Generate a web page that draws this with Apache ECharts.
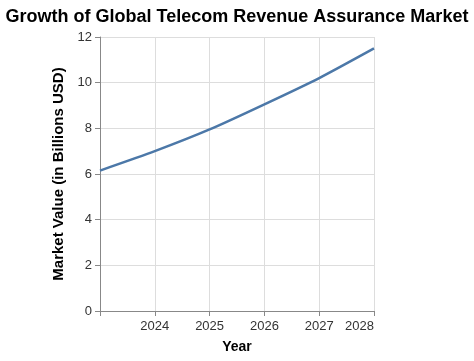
<!DOCTYPE html>
<html>
<head>
<meta charset="utf-8">
<script src="https://cdn.jsdelivr.net/npm/echarts@6/dist/echarts.min.js"></script>
<style>html,body{margin:0;padding:0;background:#fff}#c{width:474px;height:361px}</style>
</head>
<body>
<div id="c"></div>
<script>
const years = [2023, 2024, 2025, 2026, 2027, 2028];
const marketValues = [6.15, 7.0, 7.95, 9.05, 10.2, 11.5];
const yTicks = [0, 2, 4, 6, 8, 10, 12];
const titleText = 'Growth of Global Telecom Revenue Assurance Market';
const xTitle = 'Year';
const yTitle = 'Market Value (in Billions USD)';

const chart = echarts.init(document.getElementById('c'), null, {renderer: 'canvas'});
const font = 'Liberation Sans, Arial, sans-serif';
chart.setOption({
  animation: false,
  title: {
    text: titleText, left: 'center', top: 3,
    textStyle: {fontFamily: font, fontSize: 18, fontWeight: 'bold', color: '#000'}
  },
  grid: {left: 100, right: 100, top: 37, bottom: 50, containLabel: false},
  xAxis: {
    type: 'value', min: years[0], max: years[years.length - 1], interval: 1,
    name: xTitle, nameLocation: 'middle', nameGap: 29,
    nameTextStyle: {fontFamily: font, fontSize: 14, fontWeight: 'bold', color: '#000'},
    axisLine: {show: true, lineStyle: {color: '#888', width: 1}},
    axisTick: {show: true, length: 5, lineStyle: {color: '#888'}},
    axisLabel: {
      fontFamily: font, fontSize: 13, color: '#333', margin: 9,
      alignMaxLabel: 'right',
      formatter: v => (v === years[0] ? '' : String(v))
    },
    splitLine: {show: true, lineStyle: {color: '#ddd', width: 1}}
  },
  yAxis: {
    type: 'value', min: yTicks[0], max: yTicks[yTicks.length - 1], interval: 2,
    name: yTitle, nameLocation: 'middle', nameGap: 24,
    nameTextStyle: {fontFamily: font, fontSize: 15, fontWeight: 'bold', color: '#000'},
    axisLine: {show: true, lineStyle: {color: '#888', width: 1}},
    axisTick: {show: true, length: 5, lineStyle: {color: '#888'}},
    axisLabel: {fontFamily: font, fontSize: 13, color: '#333', margin: 8},
    splitLine: {show: true, lineStyle: {color: '#ddd', width: 1}}
  },
  series: [{
    type: 'line',
    data: years.map((y, i) => [y, marketValues[i]]),
    showSymbol: false,
    smooth: 0.2,
    lineStyle: {color: '#4c78a8', width: 2.5},
    itemStyle: {color: '#4c78a8'}
  }]
});
</script>
</body>
</html>
